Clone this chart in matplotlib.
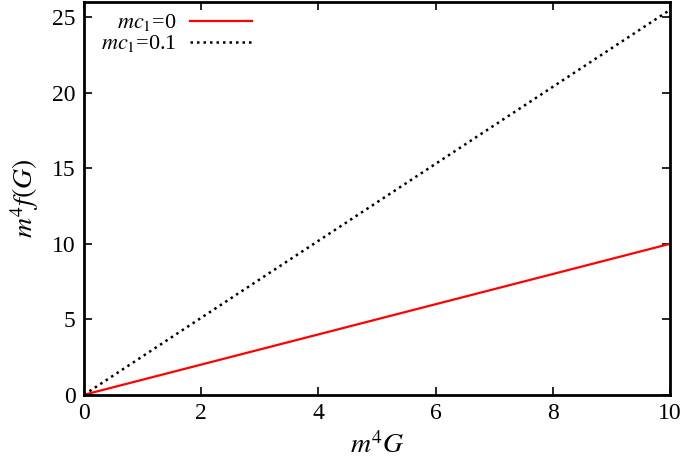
import numpy as np
import matplotlib
matplotlib.use("Agg")
import matplotlib.pyplot as plt

# data
G = [0, 10]
f_mc0 = [0, 10]
f_mc01 = [0, 25.5]

plt.rcParams["font.family"] = "Liberation Serif"
plt.rcParams["mathtext.fontset"] = "stix"

fig = plt.figure(figsize=(6.85, 4.7), dpi=100)
ax = fig.add_axes([0.1226, 0.16, 0.8554, 0.835])

ax.plot(G, f_mc0, color="red", lw=1.6, label=r"$mc_1$=0")
ax.plot(G, f_mc01, color="black", lw=1.8, linestyle=(0, (1, 1.6)), label=r"$mc_1$=0.1")

ax.set_xlim(0, 10)
ax.set_ylim(0, 26)
ax.set_xticks([0, 2, 4, 6, 8, 10])
ax.set_yticks([0, 5, 10, 15, 20, 25])
ax.tick_params(direction="in", top=True, right=True, length=6, width=1.2,
               labelsize=17, pad=6)
for s in ax.spines.values():
    s.set_linewidth(2)

ax.set_xlabel(r"$m^4G$", fontsize=20, labelpad=6)
ax.set_ylabel(r"$m^4f(G)$", fontsize=20, labelpad=8)

leg = ax.legend(loc="upper left", markerfirst=False, frameon=False,
                fontsize=16, handlelength=2.8, handletextpad=0.6,
                borderaxespad=0.05, labelspacing=0.0,
                bbox_to_anchor=(0.012, 1.0))

fig.savefig("out.png", dpi=100)
